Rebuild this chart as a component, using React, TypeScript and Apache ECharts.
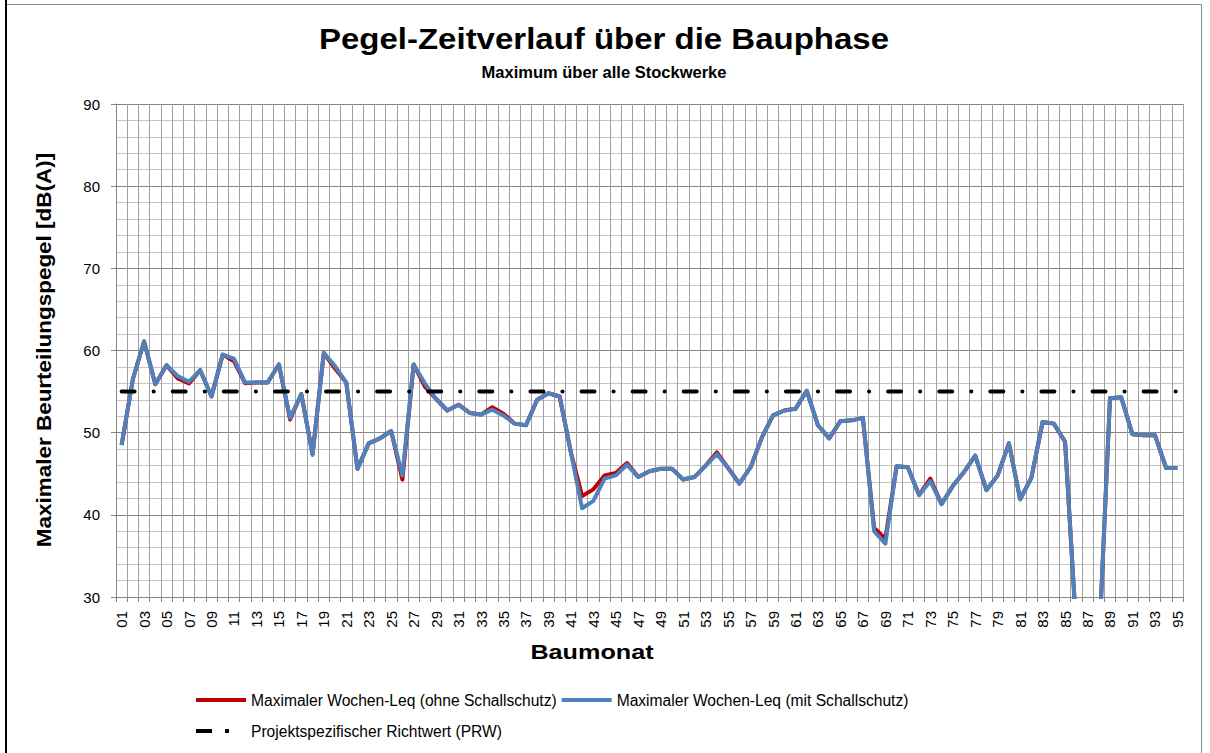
import React, { useEffect, useRef } from "react";
import * as echarts from "echarts";

const categories = [
  "01","02","03","04","05","06","07","08","09","10",
  "11","12","13","14","15","16","17","18","19","20",
  "21","22","23","24","25","26","27","28","29","30",
  "31","32","33","34","35","36","37","38","39","40",
  "41","42","43","44","45","46","47","48","49","50",
  "51","52","53","54","55","56","57","58","59","60",
  "61","62","63","64","65","66","67","68","69","70",
  "71","72","73","74","75","76","77","78","79","80",
  "81","82","83","84","85","86","87","88","89","90",
  "91","92","93","94","95"
];

// Maximaler Wochen-Leq (ohne Schallschutz)
const ohneSchallschutz = [
  48.5, 56.5, 61.1, 55.9, 58.2, 56.6, 56.0, 57.6, 54.4, 59.5,
  58.7, 56.0, 56.1, 56.1, 58.3, 51.6, 54.7, 47.4, 59.7, 57.8,
  56.1, 45.6, 48.7, 49.3, 50.2, 44.3, 58.3, 55.6, 54.1, 52.7,
  53.4, 52.4, 52.2, 53.1, 52.3, 51.1, 50.9, 54.0, 54.8, 54.4,
  47.6, 42.3, 43.1, 44.8, 45.1, 46.3, 44.6, 45.3, 45.6, 45.6,
  44.3, 44.6, 46.0, 47.6, 45.7, 43.8, 45.8, 49.4, 52.1, 52.7,
  52.9, 55.1, 50.9, 49.3, 51.4, 51.5, 51.8, 38.4, 37.1, 45.9,
  45.8, 42.4, 44.4, 41.3, 43.5, 45.2, 47.2, 43.0, 44.8, 48.7,
  41.9, 44.5, 51.3, 51.1, 48.9, 26.0, 25.0, 23.5, 54.2, 54.3,
  49.8, 49.7, 49.7, 45.7, 45.7
];

// Maximaler Wochen-Leq (mit Schallschutz)
const mitSchallschutz = [
  48.5, 56.5, 61.1, 55.9, 58.2, 56.9, 56.2, 57.6, 54.4, 59.5,
  59.0, 56.1, 56.1, 56.1, 58.3, 51.8, 54.7, 47.3, 59.7, 58.1,
  56.1, 45.6, 48.7, 49.3, 50.2, 44.8, 58.3, 56.0, 54.1, 52.7,
  53.4, 52.4, 52.2, 52.8, 52.1, 51.1, 50.9, 54.0, 54.8, 54.4,
  47.6, 40.8, 41.7, 44.4, 44.8, 46.1, 44.6, 45.3, 45.6, 45.6,
  44.3, 44.6, 46.0, 47.4, 45.7, 43.8, 45.8, 49.4, 52.1, 52.7,
  52.9, 55.1, 50.9, 49.3, 51.4, 51.5, 51.8, 38.0, 36.5, 45.9,
  45.8, 42.4, 44.1, 41.3, 43.5, 45.2, 47.2, 43.0, 44.8, 48.7,
  41.9, 44.5, 51.3, 51.1, 48.9, 26.0, 25.0, 23.5, 54.2, 54.3,
  49.8, 49.7, 49.7, 45.7, 45.7
];

// Projektspezifischer Richtwert (PRW)
const richtwert = 55;
const prw = categories.map(() => richtwert);

const yMin = 30;
const yMax = 90;
const yInterval = 10;

const nameOhne = "Maximaler Wochen-Leq (ohne Schallschutz)";
const nameMit = "Maximaler Wochen-Leq (mit Schallschutz)";
const namePrw = "Projektspezifischer Richtwert (PRW)";

const FONT = '"Liberation Sans", Arial, Helvetica, sans-serif';

const LINE_ICON = "path://M0,0H50V4H0Z";
const DASHDOT_ICON = "path://M0,0H16V4H0Z M29,0H33V4H29Z M49.99,2H50V2.01H49.99Z";

function centeredText(text: string, x: number, y: number, font: string, extra: any = {}) {
  return {
    type: "text",
    x,
    y,
    silent: true,
    ...extra,
    style: {
      text,
      fill: "#000",
      font,
      textAlign: "center",
      textVerticalAlign: "middle",
      align: "center",
      verticalAlign: "middle",
    },
  };
}

export default function App() {
  const ref = useRef<HTMLDivElement>(null);

  useEffect(() => {
    if (!ref.current) return;
    const chart = echarts.init(ref.current, null, { renderer: "svg" });

    const legendCommon = {
      left: 196,
      orient: "horizontal",
      padding: 0,
      itemWidth: 50,
      itemHeight: 4,
      itemGap: 5,
      selectedMode: false,
      textStyle: { fontSize: 15.6, color: "#000", fontFamily: FONT },
    };

    chart.setOption({
      animation: false,
      backgroundColor: "#ffffff",
      textStyle: { fontFamily: FONT },
      grid: { left: 116, top: 104, width: 1067, height: 493, containLabel: false },
      xAxis: {
        type: "category",
        data: categories,
        boundaryGap: true,
        axisLine: { show: true, lineStyle: { color: "#868686", width: 1 } },
        axisTick: { show: true, interval: 0, length: 5, lineStyle: { color: "#868686" } },
        axisLabel: { interval: 1, rotate: 90, fontSize: 15, color: "#000", margin: 14, fontFamily: FONT },
        splitLine: { show: true, interval: 0, lineStyle: { color: "#a0a0a0", width: 1 } },
      },
      yAxis: {
        type: "value",
        min: yMin,
        max: yMax,
        interval: yInterval,
        axisLine: { show: true, lineStyle: { color: "#868686", width: 1 } },
        axisTick: { show: true, length: 5, lineStyle: { color: "#868686" } },
        axisLabel: { fontSize: 15, color: "#000", margin: 16, fontFamily: FONT },
        splitLine: { show: true, lineStyle: { color: "#868686", width: 1 } },
        minorTick: { show: false, splitNumber: 5 },
        minorSplitLine: { show: true, lineStyle: { color: "#c4c4c4", width: 1 } },
      },
      legend: [
        {
          ...legendCommon,
          top: 692,
          data: [
            { name: nameOhne, icon: LINE_ICON },
            { name: nameMit, icon: LINE_ICON },
          ],
        },
        {
          ...legendCommon,
          top: 723,
          data: [{ name: namePrw, icon: DASHDOT_ICON }],
        },
      ],
      series: [
        {
          name: nameOhne,
          type: "line",
          data: ohneSchallschutz,
          symbol: "none",
          clip: true,
          lineStyle: { color: "#C00000", width: 4, join: "round" },
          itemStyle: { color: "#C00000" },
        },
        {
          name: nameMit,
          type: "line",
          data: mitSchallschutz,
          symbol: "none",
          clip: true,
          lineStyle: { color: "#4F81BD", width: 4, join: "round" },
          itemStyle: { color: "#4F81BD" },
        },
        {
          name: namePrw,
          type: "line",
          data: prw,
          symbol: "none",
          clip: true,
          lineStyle: { color: "#000000", width: 4, type: [13, 19, 0.1, 19], cap: "round" },
          itemStyle: { color: "#000000" },
        },
      ],
      graphic: [
        {
          type: "rect",
          silent: true,
          shape: { x: 6.5, y: 4.5, width: 1195, height: 800 },
          style: { fill: "none", stroke: "#8c8c8c", lineWidth: 1 },
        },
        {
          type: "line",
          silent: true,
          shape: { x1: 6, y1: 0, x2: 6, y2: 753 },
          style: { stroke: "#000", lineWidth: 2 },
        },
        centeredText("Pegel-Zeitverlauf über die Bauphase", 604, 39, `bold 30px ${FONT}`, { scaleX: 1.1 }),
        centeredText("Maximum über alle Stockwerke", 604, 72, `bold 16.5px ${FONT}`),
        centeredText("Maximaler Beurteilungspegel [dB(A)]", 44, 350, `bold 21px ${FONT}`, {
          rotation: Math.PI / 2,
          scaleX: 1.07,
        }),
        centeredText("Baumonat", 592, 652, `bold 21px ${FONT}`, { scaleX: 1.2 }),
      ],
    });

    return () => {
      chart.dispose();
    };
  }, []);

  return (
    <div
      ref={ref}
      style={{ position: "absolute", left: 0, top: 0, width: 1210, height: 753, background: "#fff" }}
    />
  );
}
